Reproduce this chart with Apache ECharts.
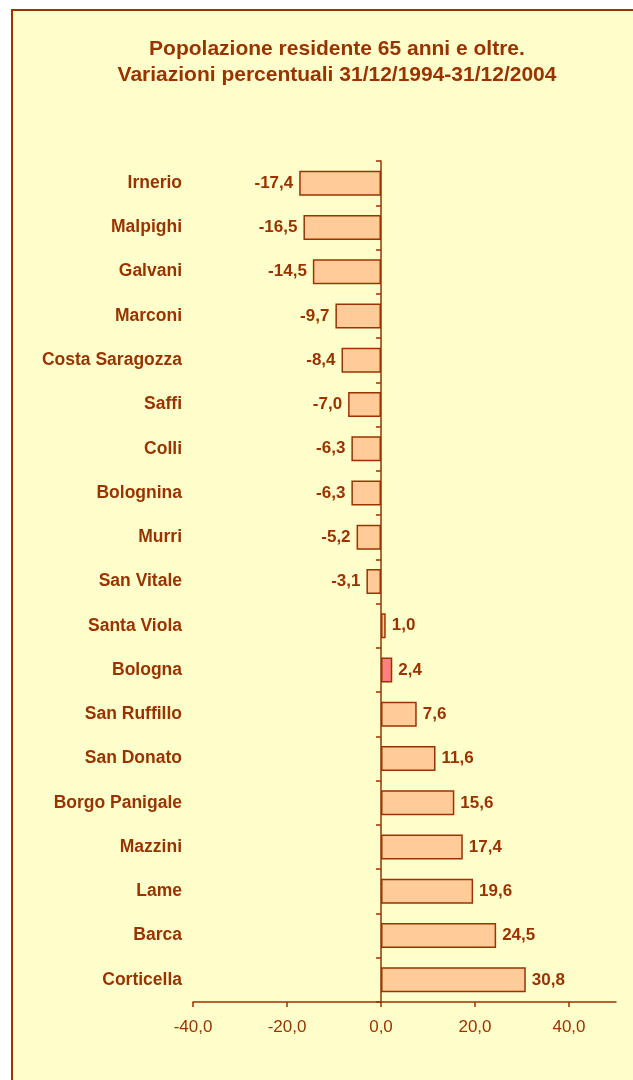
<!DOCTYPE html>
<html>
<head>
<meta charset="utf-8">
<script src="https://cdn.jsdelivr.net/npm/echarts@6/dist/echarts.min.js"></script>
<style>
  html, body { margin: 0; padding: 0; background: #fff; }
  #chart { width: 633px; height: 1080px; }
</style>
</head>
<body>
<div id="chart"></div>
<script>
var quartieri = ['Irnerio', 'Malpighi', 'Galvani', 'Marconi', 'Costa Saragozza', 'Saffi', 'Colli',
    'Bolognina', 'Murri', 'San Vitale', 'Santa Viola', 'Bologna', 'San Ruffillo', 'San Donato',
    'Borgo Panigale', 'Mazzini', 'Lame', 'Barca', 'Corticella'];
var variazioni = [-17.4, -16.5, -14.5, -9.7, -8.4, -7.0, -6.3, -6.3, -5.2, -3.1, 1.0, 2.4, 7.6,
    11.6, 15.6, 17.4, 19.6, 24.5, 30.8];
var xTicks = [-40, -20, 0, 20, 40];
var evidenziato = 'Bologna';

var marrone = '#993300';
var font = 'Arial, "Liberation Sans", sans-serif';

function virgola(v) {
    return v.toFixed(1).replace('.', ',');
}

var dati = [];
for (var i = 0; i < variazioni.length; i++) {
    var v = variazioni[i];
    dati.push({
        value: v,
        itemStyle: { color: quartieri[i] === evidenziato ? '#FF8080' : '#FFCC99' },
        label: { position: v < 0 ? 'left' : 'right' }
    });
}

var chart = echarts.init(document.getElementById('chart'));
chart.setOption({
    backgroundColor: '#ffffff',
    animation: false,
    graphic: [{
        type: 'rect',
        shape: { x: 12, y: 10, width: 700, height: 1200 },
        style: { fill: '#FFFFCC', stroke: marrone, lineWidth: 2 },
        z: -10
    }],
    title: {
        text: 'Popolazione residente 65 anni e oltre.\nVariazioni percentuali 31/12/1994-31/12/2004',
        left: 332,
        textAlign: 'center',
        top: 31,
        textStyle: {
            color: marrone,
            fontFamily: font,
            fontWeight: 'bold',
            fontSize: 21,
            lineHeight: 26
        }
    },
    grid: { left: 193, right: 17, top: 161, bottom: 78, containLabel: false, outerBoundsMode: 'none' },
    xAxis: {
        type: 'value',
        min: -40,
        max: 50,
        interval: 20,
        splitLine: { show: false },
        axisLine: { show: true, lineStyle: { color: marrone, width: 1.5 } },
        axisTick: { show: true, length: 5, customValues: xTicks, lineStyle: { color: marrone, width: 1.5 } },
        axisLabel: {
            customValues: xTicks,
            margin: 17,
            color: marrone,
            fontFamily: font,
            fontSize: 17,
            formatter: function (v) { return virgola(v); }
        }
    },
    yAxis: [{
        // nomi dei quartieri, a sinistra dell'area del grafico
        type: 'category',
        data: quartieri,
        inverse: true,
        position: 'left',
        axisLine: { show: false, onZero: false },
        axisTick: { show: false },
        axisLabel: {
            margin: 11,
            color: marrone,
            fontFamily: font,
            fontWeight: 'bold',
            fontSize: 17.5
        }
    }, {
        // asse verticale sullo zero
        type: 'category',
        data: quartieri,
        inverse: true,
        position: 'left',
        axisLine: { show: true, onZero: true, onZeroAxisIndex: 0, lineStyle: { color: marrone, width: 1.5 } },
        axisTick: { show: true, length: 5, lineStyle: { color: marrone, width: 1.5 } },
        axisLabel: { show: false }
    }],
    series: [{
        type: 'bar',
        data: dati,
        barWidth: 25,
        itemStyle: { borderColor: marrone, borderWidth: 1.5 },
        label: {
            show: true,
            distance: 6,
            color: marrone,
            fontFamily: font,
            fontWeight: 'bold',
            fontSize: 17,
            formatter: function (p) { return virgola(p.value); }
        }
    }]
});
</script>
</body>
</html>
